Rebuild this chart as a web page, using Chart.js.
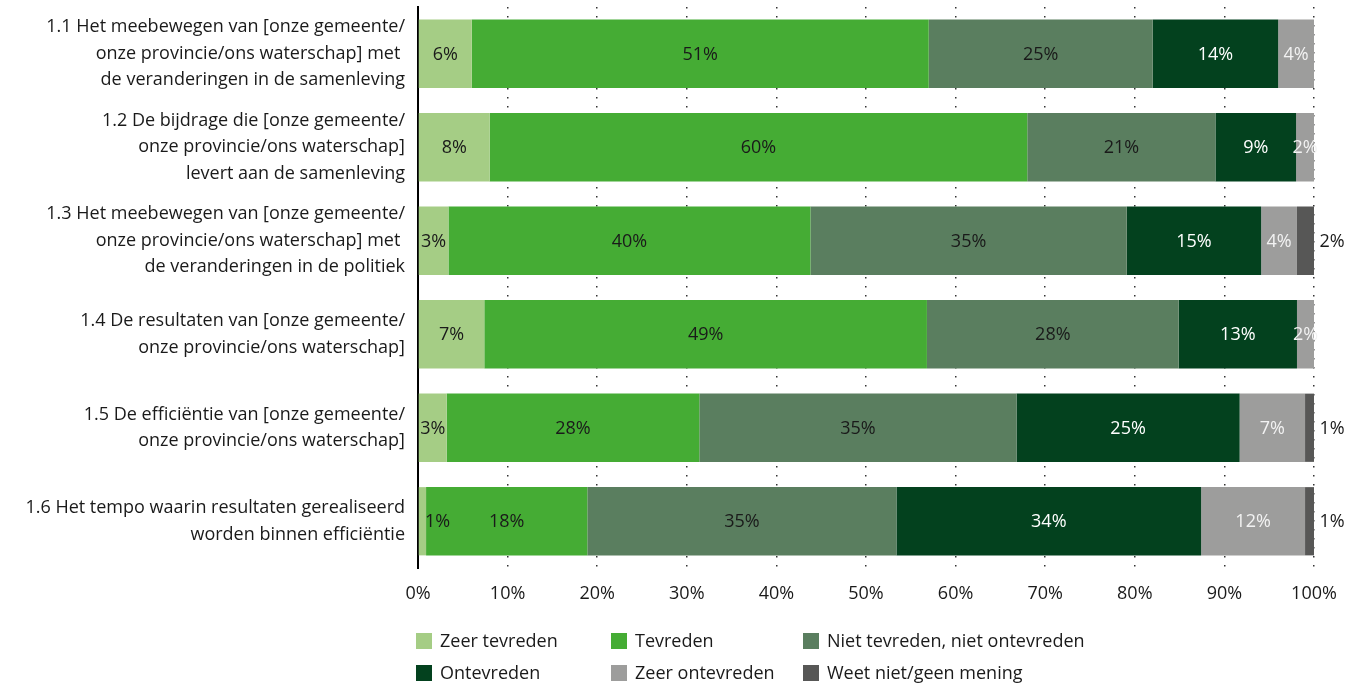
<!DOCTYPE html>
<html>
<head>
<meta charset="utf-8">
<script src="https://cdn.jsdelivr.net/npm/chart.js@4"></script>
<style>
  body { margin: 0; background: #fff; }
  #wrap { position: relative; width: 1362px; height: 683px; }
  #legend { position: absolute; left: 416px; top: 630px; font-family: "Open Sans", sans-serif; font-size: 18px; color: #1a1a1a; }
  .item { position: absolute; white-space: nowrap; height: 20px; line-height: 20px; }
  .box { display: inline-block; width: 16px; height: 16px; vertical-align: -2px; margin-right: 8px; }
</style>
</head>
<body>
<div id="wrap">
  <canvas id="chart" width="1362" height="683"></canvas>
  <div id="legend"></div>
</div>
<script>
// categories (multi-line labels)
const categories = [
  ['1.1 Het meebewegen van [onze gemeente/', 'onze provincie/ons waterschap] met ', 'de veranderingen in de samenleving'],
  ['1.2 De bijdrage die [onze gemeente/', 'onze provincie/ons waterschap]', 'levert aan de samenleving'],
  ['1.3 Het meebewegen van [onze gemeente/', 'onze provincie/ons waterschap] met ', 'de veranderingen in de politiek'],
  ['1.4 De resultaten van [onze gemeente/', 'onze provincie/ons waterschap]'],
  ['1.5 De efficiëntie van [onze gemeente/', 'onze provincie/ons waterschap]'],
  ['1.6 Het tempo waarin resultaten gerealiseerd', 'worden binnen efficiëntie']
];

const seriesNames = ['Zeer tevreden', 'Tevreden', 'Niet tevreden, niet ontevreden', 'Ontevreden', 'Zeer ontevreden', 'Weet niet/geen mening'];

// percentages
const zeerTevreden   = [6, 8, 3.4, 7.4, 3.2, 0.9];
const tevreden       = [51, 60, 40.4, 49.4, 28.2, 18.0];
const nietTevreden   = [25, 21, 35.3, 28.1, 35.4, 34.5];
const ontevreden     = [14, 9, 15, 13.2, 24.9, 34.0];
const zeerOntevreden = [4, 2, 4, 1.9, 7.3, 11.6];
const weetNiet       = [0, 0, 1.9, 0, 1.0, 1.0];

const xTicks = [0, 10, 20, 30, 40, 50, 60, 70, 80, 90, 100];

const colors = ['#a5cd85', '#45ac34', '#5a7e5f', '#03411e', '#9d9d9c', '#575756'];
const labelColors = ['#1a1a1a', '#1a1a1a', '#1a1a1a', '#ffffff', '#f2f2f2', '#1a1a1a'];

const allSeries = [zeerTevreden, tevreden, nietTevreden, ontevreden, zeerOntevreden, weetNiet];

const FONT = '"Open Sans", sans-serif';

// draw the percentages on the bars
const barLabels = {
  id: 'barLabels',
  afterDatasetsDraw(chart) {
    const ctx = chart.ctx;
    ctx.save();
    ctx.font = '18px ' + FONT;
    ctx.textBaseline = 'middle';
    chart.data.datasets.forEach((ds, di) => {
      const meta = chart.getDatasetMeta(di);
      meta.data.forEach((bar, i) => {
        const v = ds.data[i];
        if (!v) return;
        const txt = Math.round(v) + '%';
        const w = ctx.measureText(txt).width;
        let x = (bar.x + bar.base) / 2;
        ctx.textAlign = 'center';
        if (di === allSeries.length - 1) {
          x = chart.chartArea.right + 18;
        } else if (di === 0 && bar.x - bar.base < w * 0.5) {
          ctx.textAlign = 'left';
          x = bar.x - 1;
        }
        ctx.fillStyle = labelColors[di];
        ctx.fillText(txt, x, bar.y + 1);
      });
    });
    ctx.restore();
  }
};

new Chart(document.getElementById('chart'), {
  type: 'bar',
  data: {
    labels: categories,
    datasets: allSeries.map((d, i) => ({
      label: seriesNames[i],
      data: d,
      backgroundColor: colors[i],
      borderWidth: 0,
      barPercentage: 0.73,
      categoryPercentage: 1
    }))
  },
  options: {
    indexAxis: 'y',
    responsive: false,
    animation: false,
    layout: { padding: { top: 7, right: 48, left: 0, bottom: 0 } },
    plugins: { legend: { display: false }, tooltip: { enabled: false } },
    scales: {
      x: {
        stacked: true,
        min: 0,
        max: 100,
        afterFit(scale) { scale.height = 115; },
        afterBuildTicks(scale) { scale.ticks = xTicks.map(v => ({ value: v })); },
        grid: {
          color: ctx => ctx.tick && ctx.tick.value === 0 ? 'rgba(0,0,0,0)' : '#333',
          lineWidth: 1.5,
          drawTicks: false
        },
        border: { display: false, dash: [1.5, 7.5] },
        ticks: {
          padding: 15,
          color: '#1a1a1a',
          font: { family: FONT, size: 18 },
          callback: v => v + '%'
        }
      },
      y: {
        stacked: true,
        afterFit(scale) {
          scale.width = 418;
          scale.paddingTop = 0;
          scale.paddingBottom = 0;
        },
        grid: { display: false },
        border: { display: true, color: '#000', width: 2 },
        ticks: {
          padding: 5,
          color: '#1a1a1a',
          font: { family: FONT, size: 18, lineHeight: 1.47 }
        }
      }
    }
  },
  plugins: [barLabels]
});

// html legend in a three column grid
const legend = document.getElementById('legend');
const colX = [0, 195, 387];
seriesNames.forEach((name, i) => {
  const el = document.createElement('div');
  el.className = 'item';
  el.style.left = colX[i % 3] + 'px';
  el.style.top = (Math.floor(i / 3) * 32) + 'px';
  el.innerHTML = '<span class="box" style="background:' + colors[i] + '"></span>' + name;
  legend.appendChild(el);
});
</script>
</body>
</html>
